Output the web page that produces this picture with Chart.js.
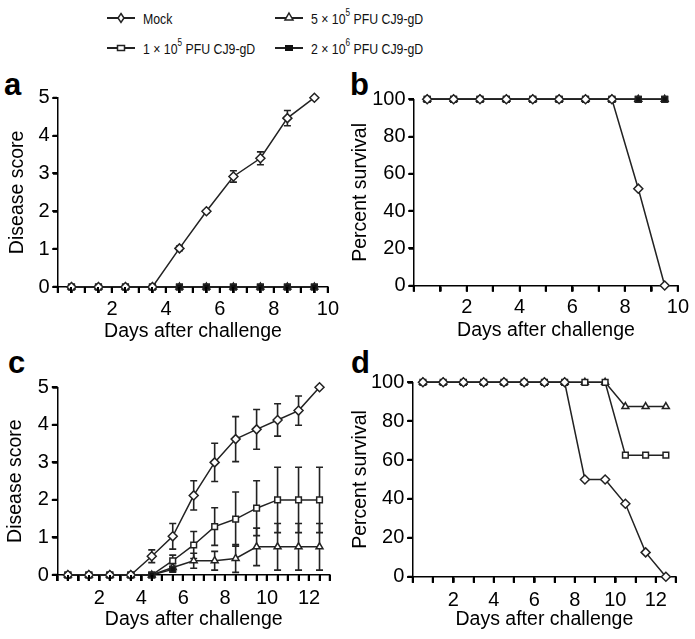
<!DOCTYPE html>
<html>
<head>
<meta charset="utf-8">
<script src="https://cdn.jsdelivr.net/npm/chart.js@4"></script>
<style>
  body { margin: 0; background: #fff; width: 695px; height: 639px; position: relative; overflow: hidden; font-family: "Liberation Sans", Arial, sans-serif; }
  canvas { position: absolute; }
  .letter { position: absolute; font: bold 31px "Liberation Sans", Arial, sans-serif; line-height: 30px; color: #000; }
  .item { position: absolute; height: 20px; display: flex; align-items: center; font: 15px "Liberation Sans", Arial, sans-serif; color: #111; white-space: nowrap; }
  .item svg { margin-right: 8px; }
  .item span { display: inline-block; transform: scaleX(0.82); transform-origin: left center; }
  .item sup { font-size: 10px; line-height: 0; position: relative; top: -2px; }
</style>
</head>
<body>

<div class="item" style="left:107px; top:8px;">
  <svg width="28" height="20"><line x1="0" y1="10" x2="28" y2="10" stroke="#222" stroke-width="2"/><polygon points="14,5.5 17,10 14,14.5 11,10" fill="#fff" stroke="#222" stroke-width="1.5"/></svg>
  <span>Mock</span>
</div>
<div class="item" style="left:107px; top:38px;">
  <svg width="28" height="20"><line x1="0" y1="10" x2="28" y2="10" stroke="#222" stroke-width="2"/><rect x="10.5" y="7.5" width="7" height="5" fill="#fff" stroke="#222" stroke-width="1.5"/></svg>
  <span>1 × 10<sup>5</sup> PFU CJ9-gD</span>
</div>
<div class="item" style="left:275px; top:8px;">
  <svg width="28" height="20"><line x1="0" y1="10" x2="28" y2="10" stroke="#222" stroke-width="2"/><polygon points="14,5 18,12 10,12" fill="#fff" stroke="#222" stroke-width="1.5"/></svg>
  <span>5 × 10<sup>5</sup> PFU CJ9-gD</span>
</div>
<div class="item" style="left:275px; top:38px;">
  <svg width="28" height="20"><line x1="0" y1="10" x2="28" y2="10" stroke="#222" stroke-width="2"/><rect x="10" y="7" width="8" height="6" fill="#111"/></svg>
  <span>2 × 10<sup>6</sup> PFU CJ9-gD</span>
</div>

<div class="letter" style="left:4px; top:70px;">a</div>
<div class="letter" style="left:350px; top:70px;">b</div>
<div class="letter" style="left:8px; top:348px;">c</div>
<div class="letter" style="left:351px; top:348px;">d</div>

<canvas id="chartA" width="345" height="290" style="left:0; top:60px;"></canvas>
<canvas id="chartB" width="345" height="290" style="left:350px; top:60px;"></canvas>
<canvas id="chartC" width="345" height="299" style="left:0; top:340px;"></canvas>
<canvas id="chartD" width="345" height="299" style="left:350px; top:340px;"></canvas>

<script>
// days after challenge (points sit mid-day)
const daysAB = [0.5, 1.5, 2.5, 3.5, 4.5, 5.5, 6.5, 7.5, 8.5, 9.5];
const daysCD = [0.5, 1.5, 2.5, 3.5, 4.5, 5.5, 6.5, 7.5, 8.5, 9.5, 10.5, 11.5, 12.5];
const xLabelsAB = [2, 4, 6, 8, 10];
const xLabelsCD = [2, 4, 6, 8, 10, 12];

// a - disease score
const scoreA_mock = [0, 0, 0, 0, 1.02, 2.0, 2.92, 3.4, 4.46, 5.0];
const scoreA_mockErr = [0, 0, 0, 0, 0.06, 0.04, 0.15, 0.17, 0.2, 0];
const scoreA_1e5 = [0, 0, 0, 0, 0, 0, 0, 0, 0, 0];
const scoreA_5e5 = [0, 0, 0, 0, 0, 0, 0, 0, 0, 0];
const scoreA_2e6 = [0, 0, 0, 0, 0, 0, 0, 0, 0, 0];

// b - percent survival
const survB_mock = [100, 100, 100, 100, 100, 100, 100, 100, 52, 0];
const survB_1e5 = [100, 100, 100, 100, 100, 100, 100, 100, 100, 100];
const survB_5e5 = [100, 100, 100, 100, 100, 100, 100, 100, 100, 100];
const survB_2e6 = [100, 100, 100, 100, 100, 100, 100, 100, 100, 100];

// c - disease score
const scoreC_mock = [0, 0, 0, 0, 0.5, 1.03, 2.12, 3.0, 3.62, 3.88, 4.13, 4.38, 5.0];
const scoreC_mockErr = [0, 0, 0, 0, 0.17, 0.34, 0.39, 0.51, 0.6, 0.53, 0.43, 0.39, 0];
const scoreC_1e5 = [0, 0, 0, 0, 0, 0.38, 0.8, 1.29, 1.49, 1.78, 2.0, 2.0, 2.0];
const scoreC_1e5Err = [0, 0, 0, 0, 0, 0.15, 0.36, 0.5, 0.72, 0.73, 0.87, 0.87, 0.87];
const scoreC_5e5 = [0, 0, 0, 0, 0, 0.2, 0.38, 0.38, 0.44, 0.75, 0.75, 0.75, 0.75];
const scoreC_5e5Err = [0, 0, 0, 0, 0, 0.1, 0.2, 0.25, 0.37, 0.5, 0.62, 0.62, 0.62];
const scoreC_2e6 = [0, 0, 0, 0, 0, 0.15];

// d - percent survival
const survD_mock = [100, 100, 100, 100, 100, 100, 100, 100, 50, 50, 37.5, 12.5, 0];
const survD_1e5 = [100, 100, 100, 100, 100, 100, 100, 100, 100, 100, 62.5, 62.5, 62.5];
const survD_5e5 = [100, 100, 100, 100, 100, 100, 100, 100, 100, 100, 87.5, 87.5, 87.5];

const INK = '#222';

// marker look per group; lower order is drawn on top
const groupStyle = {
    mock: { pointStyle: 'rectRot', pointRadius: 4.5, pointBackgroundColor: '#fff', order: 0 },
    g1e5: { pointStyle: 'rect', pointRadius: 4, pointBackgroundColor: '#fff', order: 2 },
    g5e5: { pointStyle: 'triangle', pointRadius: 4, pointBackgroundColor: '#fff', order: 3 },
    g2e6: { pointStyle: 'rect', pointRadius: 4, pointBackgroundColor: '#111', order: 1 }
};

function series(group, days, values, err) {
    return Object.assign({
        data: values.map((v, i) => ({ x: days[i], y: v })),
        err: err,
        borderColor: INK,
        borderWidth: 1.5,
        pointBorderColor: INK,
        pointBorderWidth: 1.5,
        tension: 0,
        clip: false
    }, groupStyle[group]);
}

// vertical error bars, drawn under the markers
const errorBars = {
    id: 'errorBars',
    beforeDatasetsDraw(chart) {
        const ctx = chart.ctx;
        const ys = chart.scales.y;
        chart.data.datasets.forEach((ds, i) => {
            if (!ds.err) return;
            const meta = chart.getDatasetMeta(i);
            ctx.save();
            ctx.strokeStyle = INK;
            ctx.lineWidth = 1.6;
            meta.data.forEach((pt, j) => {
                const e = ds.err[j];
                if (!e) return;
                const v = ds.data[j].y;
                const top = ys.getPixelForValue(v + e);
                const bot = ys.getPixelForValue(v - e);
                ctx.beginPath();
                ctx.moveTo(pt.x, top); ctx.lineTo(pt.x, bot);
                ctx.moveTo(pt.x - 3.5, top); ctx.lineTo(pt.x + 3.5, top);
                ctx.moveTo(pt.x - 3.5, bot); ctx.lineTo(pt.x + 3.5, bot);
                ctx.stroke();
            });
            ctx.restore();
        });
    }
};

// outward tick marks on both axes (on top of the library's own tick marks)
function drawTickMarks(chart) {
    const ctx = chart.ctx;
    const xs = chart.scales.x, ys = chart.scales.y;
    ctx.save();
    ctx.strokeStyle = '#000';
    ctx.lineWidth = 2;
    ctx.beginPath();
    xs.ticks.forEach(t => {
        const px = Math.round(xs.getPixelForValue(t.value));
        ctx.moveTo(px, xs.top); ctx.lineTo(px, xs.top + 6);
    });
    ys.ticks.forEach(t => {
        const py = Math.round(ys.getPixelForValue(t.value));
        ctx.moveTo(ys.right - 5.5, py); ctx.lineTo(ys.right, py);
    });
    ctx.stroke();
    ctx.restore();
}

const tickMarks = {
    id: 'tickMarks',
    afterDatasetsDraw: drawTickMarks,
    afterDraw: drawTickMarks
};

function makePanel(id, datasets, o) {
    new Chart(document.getElementById(id), {
        type: 'line',
        data: { datasets: datasets },
        options: {
            responsive: false,
            animation: false,
            devicePixelRatio: 1,
            layout: { padding: { top: o.padTop, right: o.padRight, left: 0, bottom: 0 } },
            plugins: { legend: { display: false }, tooltip: { enabled: false } },
            scales: {
                x: {
                    type: 'linear', min: 0, max: o.xMax,
                    grid: { drawOnChartArea: false, drawTicks: true, tickLength: 6, color: '#000', tickColor: '#000', tickWidth: 2, lineWidth: 1.5 },
                    border: { color: '#000', width: 1.5 },
                    ticks: {
                        stepSize: o.xStep, autoSkip: false, maxRotation: 0, padding: o.xTickPad - 1, color: '#000',
                        font: { size: 20, lineHeight: 1 },
                        callback: v => o.xLabels.some(l => Math.abs(l - v) < 1e-6) ? String(Math.round(v)) : ''
                    },
                    title: { display: true, text: 'Days after challenge', color: '#000', font: { size: 19.5, lineHeight: 1 }, padding: { top: 0, bottom: o.xTitlePad } },
                    afterFit: s => { s.height = o.xHeight; }
                },
                y: {
                    min: 0, max: o.yMax,
                    grid: { drawOnChartArea: false, drawTicks: true, tickLength: 5, color: '#000', tickColor: '#000', tickWidth: 2, lineWidth: 1.5 },
                    border: { color: '#000', width: 1.5 },
                    ticks: { stepSize: o.yStep, padding: 3.5, color: '#000', font: { size: 20, lineHeight: 1 } },
                    title: { display: true, text: o.yTitle, color: '#000', font: { size: 19.5, lineHeight: 1 }, padding: { top: o.yTitlePad, bottom: 0 } },
                    afterFit: s => { s.width = o.yWidth; }
                }
            }
        },
        plugins: [errorBars, tickMarks]
    });
}

Chart.defaults.font.family = '"Liberation Sans", Arial, sans-serif';

makePanel('chartA', [
    series('mock', daysAB, scoreA_mock, scoreA_mockErr),
    series('g1e5', daysAB, scoreA_1e5),
    series('g5e5', daysAB, scoreA_5e5),
    series('g2e6', daysAB, scoreA_2e6)
], { padTop: 37.7, padRight: 15, yWidth: 58, xHeight: 63, xMax: 10, xStep: 0.5, xLabels: xLabelsAB, xTickPad: 7, xTitlePad: 8.25,
     yMax: 5, yStep: 1, yTitle: 'Disease score', yTitlePad: 7.75 });

makePanel('chartB', [
    series('mock', daysAB, survB_mock),
    series('g1e5', daysAB, survB_1e5),
    series('g5e5', daysAB, survB_5e5),
    series('g2e6', daysAB, survB_2e6)
], { padTop: 39.3, padRight: 16.7, yWidth: 64, xHeight: 64.5, xMax: 10, xStep: 1, xLabels: xLabelsAB, xTickPad: 7, xTitlePad: 9.25,
     yMax: 100, yStep: 20, yTitle: 'Percent survival', yTitlePad: 1 });

makePanel('chartC', [
    series('mock', daysCD, scoreC_mock, scoreC_mockErr),
    series('g1e5', daysCD, scoreC_1e5, scoreC_1e5Err),
    series('g5e5', daysCD, scoreC_5e5, scoreC_5e5Err),
    series('g2e6', daysCD, scoreC_2e6)
], { padTop: 47.3, padRight: 15, yWidth: 57.4, xHeight: 64, xMax: 13, xStep: 0.5, xLabels: xLabelsCD, xTickPad: 8.8, xTitlePad: 10,
     yMax: 5, yStep: 1, yTitle: 'Disease score', yTitlePad: 6 });

makePanel('chartD', [
    series('mock', daysCD, survD_mock),
    series('g1e5', daysCD, survD_1e5),
    series('g5e5', daysCD, survD_5e5)
], { padTop: 42.3, padRight: 19, yWidth: 62.8, xHeight: 62.3, xMax: 13, xStep: 1, xLabels: xLabelsCD, xTickPad: 8.3, xTitlePad: 9.5,
     yMax: 100, yStep: 20, yTitle: 'Percent survival', yTitlePad: 1 });
</script>
</body>
</html>
